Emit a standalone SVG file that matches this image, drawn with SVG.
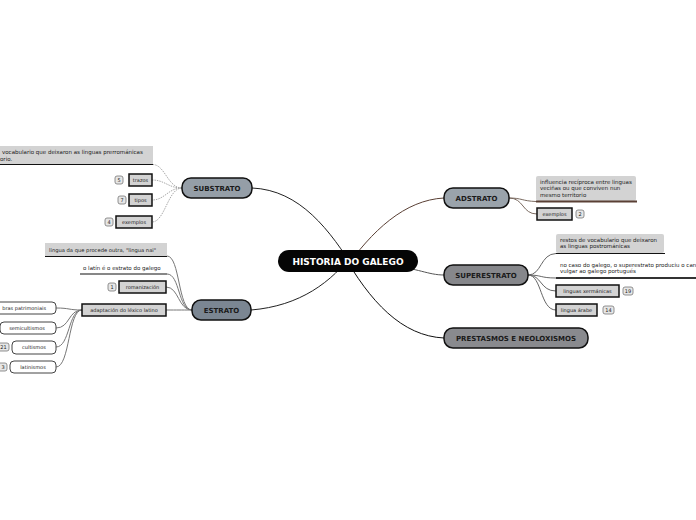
<svg xmlns="http://www.w3.org/2000/svg" width="696" height="520" viewBox="0 0 696 520">
<style>
.t{font-family:"DejaVu Sans","Liberation Sans",sans-serif;font-size:5.5px;fill:#222}
.tb{font-family:"DejaVu Sans","Liberation Sans",sans-serif;font-weight:bold;fill:#1a1a1a;text-anchor:middle}
.box{fill:#d3d3d3;stroke:#111;stroke-width:1.5}
.gbox{fill:#d3d3d3}
.wbox{fill:#fff;stroke:#444;stroke-width:1}
.badge{fill:#e6e6e6;stroke:#777;stroke-width:0.8}
.bt{font-family:"DejaVu Sans","Liberation Sans",sans-serif;font-size:5px;fill:#222;text-anchor:middle}
.c{fill:none;stroke-width:1}
.main{stroke:#111;stroke-width:1.5}
</style>
<g id="connectors">
<path class="c" d="M252,188 C300,190 330,230 356,272" stroke="#222"/>
<path class="c" d="M251,310 C300,306 332,282 354,252" stroke="#222"/>
<path class="c" d="M444,198 C405,200 372,230 343,272" stroke="#5a4035"/>
<path class="c" d="M444,275 C428,275 418,268 390,266" stroke="#555"/>
<path class="c" d="M444,338 C402,336 370,302 342,252" stroke="#111"/>
<g stroke="#aaa" stroke-dasharray="1.5,1" class="c" fill="none">
<path d="M182,188 C168,188 165,165 153,164.5"/>
<path d="M182,188 C168,188 165,180 152,180"/>
<path d="M182,188 C168,188 165,200 152,200"/>
<path d="M182,188 C168,188 165,222 152,222"/>
</g>
<g stroke="#777" class="c" fill="none">
<path d="M192,310 C178,310 180,256 167,256"/>
<path d="M192,310 C178,310 180,274 167,274"/>
<path d="M192,310 C178,310 179,287 166,287"/>
<path d="M192,310 C180,310 178,310 166,310"/>
<path d="M82,310 C68,310 70,308 56,308"/>
<path d="M82,310 C68,310 70,328 56,328"/>
<path d="M82,310 C68,310 70,347 56,347"/>
<path d="M82,310 C68,310 70,367 56,367"/>
</g>
<g stroke="#7a6a60" class="c" fill="none">
<path d="M509,198 C522,198 522,201 536,201.5"/>
<path d="M509,198 C524,198 522,214 537,214"/>
</g>
<g stroke="#666" class="c" fill="none">
<path d="M528,275 C542,275 540,254 556,253.5"/>
<path d="M528,275 C542,275 540,278 556,278"/>
<path d="M528,275 C542,275 540,291 556,291"/>
<path d="M528,275 C542,275 540,310 556,310"/>
</g>
</g>
<g id="historia">
<rect x="278" y="250" width="140" height="22" rx="11" fill="#050505"/>
<text class="tb" x="348" y="264.5" font-size="9" style="fill:#fff">HISTORIA DO GALEGO</text>
</g>
<g id="substrato">
<rect x="182" y="178" width="70" height="20" rx="9" fill="#959ea7" class="main"/>
<text class="tb" x="217" y="190.5" font-size="7">SUBSTRATO</text>
</g>
<g id="estrato">
<rect x="192" y="300" width="59" height="20" rx="9" fill="#7b8692" class="main"/>
<text class="tb" x="221.5" y="312.5" font-size="7">ESTRATO</text>
</g>
<g id="adstrato">
<rect x="444" y="188" width="65" height="20" rx="9" fill="#9aa3ab" class="main"/>
<text class="tb" x="476.5" y="200.5" font-size="7">ADSTRATO</text>
</g>
<g id="superestrato">
<rect x="444" y="265" width="84" height="20" rx="9" fill="#86878b" class="main"/>
<text class="tb" x="486" y="277.5" font-size="7">SUPERESTRATO</text>
</g>
<g id="prestasmos">
<rect x="444" y="328" width="144" height="20" rx="9" fill="#898a8e" class="main"/>
<text class="tb" x="516" y="340.5" font-size="7">PRESTASMOS E NEOLOXISMOS</text>
</g>
<g id="sub-texto">
<rect class="gbox" x="-2" y="146" width="155" height="18"/>
<line x1="0" y1="164.5" x2="153" y2="164.5" stroke="#111" stroke-width="1.2"/>
<text class="t" x="2" y="154">vocabulario que deixaron as linguas prerrománicas</text>
<text class="t" x="0" y="160.5">orio.</text>
</g>
<g id="sub-trazos">
<rect class="badge" x="115" y="176" width="8" height="8" rx="2"/>
<text class="bt" x="119" y="181.8">5</text>
<rect class="box" x="129" y="174" width="23" height="12"/>
<text class="bt" x="140.5" y="181.8">trazos</text>
</g>
<g id="sub-tipos">
<rect class="badge" x="118" y="196" width="8" height="8" rx="2"/>
<text class="bt" x="122" y="201.8">7</text>
<rect class="box" x="129" y="194" width="23" height="12"/>
<text class="bt" x="140.5" y="201.8">tipos</text>
</g>
<g id="sub-exemplos">
<rect class="badge" x="105" y="218" width="8" height="8" rx="2"/>
<text class="bt" x="109" y="223.8">4</text>
<rect class="box" x="116" y="216" width="36" height="12"/>
<text class="bt" x="134" y="223.8">exemplos</text>
</g>
<g id="est-nai">
<rect class="gbox" x="45" y="243" width="122" height="13"/>
<line x1="45" y1="256.5" x2="167" y2="256.5" stroke="#111" stroke-width="1.2"/>
<text class="t" x="49" y="251.5" font-size="5.2" style="font-size:5.2px">lingua da que procede outra, "lingua nai"</text>
</g>
<g id="est-latin">
<text class="t" x="83" y="270">o latín é o estrato do galego</text>
<line x1="80" y1="274" x2="167" y2="274" stroke="#111" stroke-width="1.2"/>
</g>
<g id="est-romanizacion">
<rect class="badge" x="108" y="283" width="8" height="8" rx="2"/>
<text class="bt" x="112" y="288.8">1</text>
<rect class="box" x="119" y="281" width="47" height="12"/>
<text class="bt" x="142.5" y="288.8">romanización</text>
</g>
<g id="est-adaptacion">
<rect class="box" x="82" y="304" width="84" height="12"/>
<text class="bt" x="124" y="311.8">adaptación do léxico latino</text>
</g>
<g id="ad-patrimoniais">
<rect class="wbox" x="-10" y="302" width="66" height="12" rx="4"/>
<text class="bt" x="46" y="309.8" style="text-anchor:end">bras patrimoniais</text>
</g>
<g id="ad-semicultismos">
<rect class="wbox" x="0" y="322" width="56" height="12" rx="4"/>
<text class="bt" x="27" y="329.8">semicultismos</text>
</g>
<g id="ad-cultismos">
<rect class="badge" x="-2" y="343" width="11" height="8" rx="2"/>
<text class="bt" x="3.5" y="348.8">21</text>
<rect class="wbox" x="12" y="341" width="44" height="13" rx="4"/>
<text class="bt" x="34" y="349.3">cultismos</text>
</g>
<g id="ad-latinismos">
<rect class="badge" x="-2" y="363" width="9" height="8" rx="2"/>
<text class="bt" x="3" y="368.8">3</text>
<rect class="wbox" x="10" y="361" width="46" height="12" rx="4" stroke="#111" stroke-width="1.5"/>
<text class="bt" x="33" y="368.8">latinismos</text>
</g>
<g id="ads-texto">
<rect class="gbox" x="536" y="176" width="100" height="25" rx="2"/>
<line x1="536" y1="201.5" x2="637" y2="201.5" stroke="#5a4035" stroke-width="2"/>
<text class="t" x="540" y="183.5">influencia recíproca entre linguas</text>
<text class="t" x="540" y="190">veciñas ou que conviven nun</text>
<text class="t" x="540" y="196.5">mesmo territorio</text>
</g>
<g id="ads-exemplos">
<rect class="box" x="537" y="208" width="35" height="12"/>
<text class="bt" x="554.5" y="215.8">exemplos</text>
<rect class="badge" x="576" y="210" width="8" height="8" rx="2"/>
<text class="bt" x="580" y="215.8">2</text>
</g>
<g id="sup-restos">
<rect class="gbox" x="556" y="234" width="108" height="19" rx="2"/>
<line x1="556" y1="253.5" x2="665" y2="253.5" stroke="#111" stroke-width="1.2"/>
<text class="t" x="560" y="241.5">restos de vocabulario que deixaron</text>
<text class="t" x="560" y="248">as linguas postrománicas</text>
</g>
<g id="sup-caso">
<text class="t" x="560" y="266.5">no caso do galego, o superestrato produciu o can</text>
<text class="t" x="560" y="273">vulgar ao galego portugués</text>
<line x1="556" y1="278" x2="696" y2="278" stroke="#333" stroke-width="1.8"/>
</g>
<g id="sup-xermanicas">
<rect class="box" x="556" y="285" width="63" height="12"/>
<text class="bt" x="587.5" y="292.8">linguas xermánicas</text>
<rect class="badge" x="623" y="287" width="10" height="8" rx="2"/>
<text class="bt" x="628" y="292.8">19</text>
</g>
<g id="sup-arabe">
<rect class="box" x="556" y="304" width="41" height="12"/>
<text class="bt" x="576.5" y="311.8">lingua árabe</text>
<rect class="badge" x="603" y="306" width="11" height="8" rx="2"/>
<text class="bt" x="608.5" y="311.8">14</text>
</g>
</svg>
